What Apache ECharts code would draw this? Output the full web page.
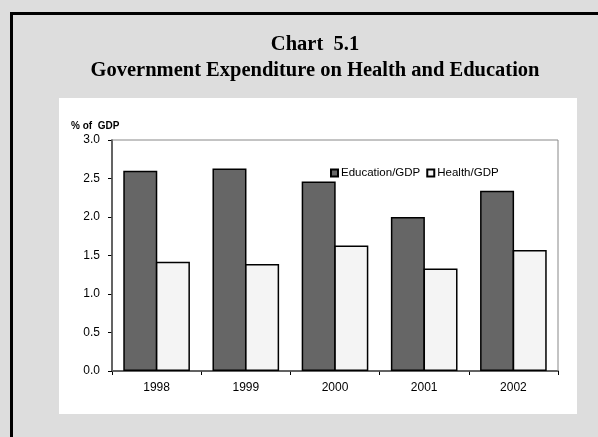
<!DOCTYPE html>
<html>
<head>
<meta charset="utf-8">
<script src="https://cdn.jsdelivr.net/npm/echarts@6/dist/echarts.min.js"></script>
<style>html,body{margin:0;padding:0;background:#dddddd;}#c{width:598px;height:437px;}</style>
</head>
<body>
<div id="c"></div>
<script>
const years = ['1998', '1999', '2000', '2001', '2002'];
const educationGDP = [2.60, 2.63, 2.46, 2.00, 2.34];
const healthGDP = [1.42, 1.39, 1.63, 1.33, 1.57];
const seriesNames = ['Education/GDP', 'Health/GDP'];
const titleLines = ['Chart  5.1', 'Government Expenditure on Health and Education'];
const yAxisName = '% of  GDP';

const chart = echarts.init(document.getElementById('c'), null, {renderer: 'canvas'});
chart.setOption({
  backgroundColor: '#dddddd',
  animation: false,
  graphic: [
    {type: 'rect', z: 0, silent: true, shape: {x: 11.5, y: 13.5, width: 620, height: 460},
     style: {fill: '#dddddd', stroke: '#000', lineWidth: 3}},
    {type: 'rect', z: 0, silent: true, shape: {x: 59, y: 98, width: 518, height: 316},
     style: {fill: '#ffffff'}}
  ],
  title: {
    text: titleLines.join('\n'),
    left: 310, top: 27, textAlign: 'center',
    textStyle: {fontFamily: 'Liberation Serif', fontWeight: 'bold', fontSize: 20.5, lineHeight: 26, color: '#000'}
  },
  legend: {
    data: seriesNames,
    left: 325, top: 162,
    itemWidth: 7, itemHeight: 7, itemGap: 6, icon: 'rect',
    textStyle: {fontFamily: 'Arial, Liberation Sans', fontSize: 11.5, color: '#000', padding: [0,0,0,-2]}
  },
  grid: {left: 112, right: 40, top: 140, bottom: 66, show: true, borderColor: '#888', borderWidth: 1, backgroundColor: 'transparent', z: 1},
  xAxis: {
    type: 'category', data: years,
    axisLine: {lineStyle: {color: '#000', width: 1.5}},
    axisTick: {show: true, alignWithLabel: false, length: 4, lineStyle: {color: '#000'}},
    axisLabel: {margin: 11, fontFamily: 'Arial, Liberation Sans', fontSize: 12, color: '#000'}
  },
  yAxis: {
    type: 'value', min: 0, max: 3, interval: 0.5,
    name: yAxisName, nameLocation: 'end', nameGap: 14,
    nameTextStyle: {fontFamily: 'Arial, Liberation Sans', fontSize: 10, fontWeight: 'bold', color: '#000', align: 'left', verticalAlign: 'middle', padding: [0,0,0,-41]},
    axisLine: {show: true, lineStyle: {color: '#000', width: 1.5}},
    axisTick: {show: true, length: 4, lineStyle: {color: '#000'}},
    splitLine: {show: false},
    axisLabel: {margin: 12, fontFamily: 'Arial, Liberation Sans', fontSize: 12, color: '#000', formatter: v => v.toFixed(1)}
  },
  series: [
    {name: seriesNames[0], type: 'bar', data: educationGDP, barWidth: 34, barGap: '-4%',
     itemStyle: {color: '#666666', borderColor: '#000', borderWidth: 1.5}},
    {name: seriesNames[1], type: 'bar', data: healthGDP, barWidth: 34, barGap: '-4%',
     itemStyle: {color: '#f4f4f4', borderColor: '#000', borderWidth: 1.5}}
  ]
});
</script>
</body>
</html>
